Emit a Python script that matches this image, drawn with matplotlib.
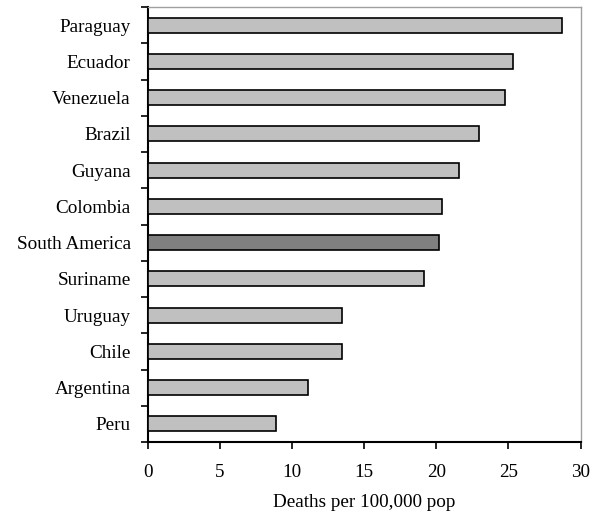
import matplotlib
matplotlib.use("Agg")
import matplotlib.pyplot as plt
import numpy as np
from matplotlib.ticker import FixedLocator

plt.rcParams['font.family'] = ['Liberation Serif', 'DejaVu Serif']

countries = ["Paraguay", "Ecuador", "Venezuela", "Brazil", "Guyana", "Colombia",
             "South America", "Suriname", "Uruguay", "Chile", "Argentina", "Peru"]
values = [28.7, 25.3, 24.8, 23.0, 21.6, 20.4, 20.2, 19.15, 13.5, 13.5, 11.15, 8.9]
highlight = "South America"
xticks = [0, 5, 10, 15, 20, 25, 30]
xlabel = "Deaths per 100,000 pop"

fs = 13.8
fig = plt.figure(figsize=(5.98, 5.16), dpi=100)
ax = fig.add_axes([147.5/598, 1-442/516, (580.5-147.5)/598, (442-7)/516])

n = len(countries)
ypos = np.arange(n)[::-1]
colors = ["#808080" if c == highlight else "#c0c0c0" for c in countries]
ax.barh(ypos, values, height=0.42, color=colors, edgecolor="black", linewidth=1.2, zorder=3)

ax.set_ylim(-0.5, n - 0.5)
ax.set_xlim(0, 30)
ax.set_yticks(ypos)
ax.set_yticklabels(countries, fontsize=fs)
ax.yaxis.set_minor_locator(FixedLocator(np.arange(-0.5, n, 1.0)))
ax.tick_params(axis='y', which='major', length=0, pad=12)
ax.tick_params(axis='y', which='minor', length=5, width=1.2, direction='out')
ax.set_xticks(xticks)
ax.set_xticklabels([str(t) for t in xticks], fontsize=fs)
ax.tick_params(axis='x', length=5, width=1.2, direction='out', pad=11)
ax.set_xlabel(xlabel, fontsize=fs, labelpad=9)

for s in ['top', 'right']:
    ax.spines[s].set_color('#a0a0a0')
    ax.spines[s].set_linewidth(1.0)
for s in ['left', 'bottom']:
    ax.spines[s].set_color('black')
    ax.spines[s].set_linewidth(1.5)

fig.savefig("out.png", dpi=100)
